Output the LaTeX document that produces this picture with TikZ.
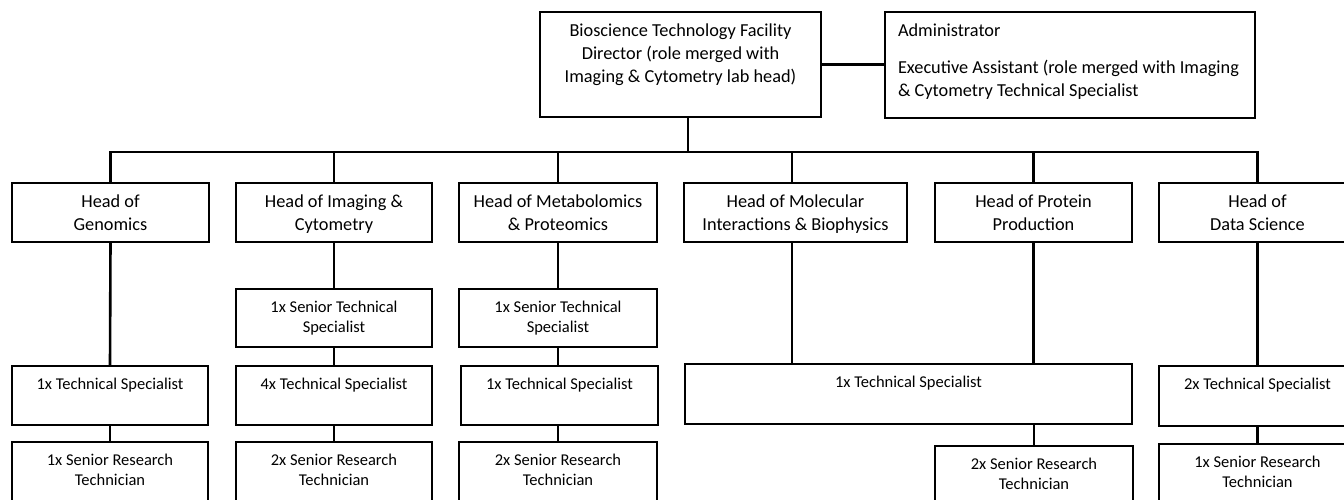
\documentclass[tikz,border=0pt]{standalone}
\usepackage{fontspec}
\setmainfont{Carlito}
\newcommand\toppad{9pt}
\newcommand\orgbox[7][box]{%
  \node[#1] (#2) at (#3,#4) {\parbox[c][\dimexpr #6pt-#4pt\relax][t]{\dimexpr #5pt-#3pt\relax}{\centering\vspace*{\toppad}\strut #7\par}};}
\begin{document}
\begin{tikzpicture}[x=1pt,y=-1pt,
  box/.style={draw=black, line width=1.8pt, fill=white, inner sep=0pt, outer sep=0pt, anchor=north west,
    font=\fontsize{18.3}{22.6}\selectfont},
  sbox/.style={box, font=\fontsize{16.5}{20.8}\selectfont},
  conn/.style={draw=black, line width=2.6pt}]
\useasboundingbox (0,0) rectangle (1344,500);
\fill[white] (0,0) rectangle (1344,500);
\clip (0,0) rectangle (1344,500);
% top
\orgbox{dir}{540}{12}{821}{117}{Bioscience Technology Facility\\Director (role merged with\\Imaging \& Cytometry lab head)}
\node[box] (adm) at (885,12) {\parbox[c][106pt][t]{370pt}{\raggedright\vspace*{\toppad}\hspace*{13pt}\strut Administrator\par\vspace{14pt}\hspace*{13pt}Executive Assistant (role merged with Imaging\\\hspace*{13pt}\& Cytometry Technical Specialist\par}};
% heads
\orgbox{gen}{12}{183}{209}{242}{Head of\\Genomics}
\orgbox{img}{236}{183}{432}{242}{Head of Imaging \&\\Cytometry}
\orgbox{met}{459}{183}{657}{242}{Head of Metabolomics\\\& Proteomics}
\orgbox{mol}{684}{183}{907}{242}{Head of Molecular\\Interactions \& Biophysics}
\orgbox{pro}{935}{183}{1132}{242}{Head of Protein\\Production}
\orgbox{ds}{1159}{183}{1356}{242}{Head of\\Data Science}
\renewcommand\toppad{8.5pt}
% senior technical specialists
\orgbox[sbox]{imgsts}{236}{289}{432}{347}{1x Senior Technical\\Specialist}
\orgbox[sbox]{metsts}{459}{289}{657}{347}{1x Senior Technical\\Specialist}
% technical specialists
\orgbox[sbox]{gents}{12}{366}{208}{425}{1x Technical Specialist}
\orgbox[sbox]{imgts}{236}{366}{432}{425}{4x Technical Specialist}
\orgbox[sbox]{metts}{461}{366}{658}{425}{1x Technical Specialist}
\orgbox[sbox]{molts}{685}{364}{1132}{424}{1x Technical Specialist}
\orgbox[sbox]{dsts}{1159}{366}{1356}{426}{2x Technical Specialist}
% senior research technicians
\orgbox[sbox]{gensrt}{12}{442}{208}{530}{1x Senior Research\\Technician}
\orgbox[sbox]{imgsrt}{236}{442}{432}{530}{2x Senior Research\\Technician}
\orgbox[sbox]{metsrt}{459}{442}{657}{530}{2x Senior Research\\Technician}
\orgbox[sbox]{prosrt}{935}{446}{1133}{530}{2x Senior Research\\Technician}
\orgbox[sbox]{dssrt}{1159}{444}{1356}{530}{1x Senior Research\\Technician}
% connectors
\coordinate (bus) at (688,152);
\draw[conn] (dir.east) -- (dir.east -| adm.west);
\draw[conn] ([xshift=7.5pt]dir.south) -- (bus);
\draw[conn] (gen.north) -- (gen.north |- bus) -- (ds.north |- bus) -- (ds.north);
\draw[conn] (img.north) -- (img.north |- bus);
\draw[conn] (met.north) -- (met.north |- bus);
\draw[conn] ([xshift=-3.5pt]mol.north) -- ([xshift=-3.5pt]mol.north |- bus);
\draw[conn] (pro.north) -- (pro.north |- bus);
\draw[conn] (gen.south) -- (gents.north);
\draw[conn] (gents.south) -- (gensrt.north);
\draw[conn] (img.south) -- (imgsts.north);
\draw[conn] (imgsts.south) -- (imgts.north);
\draw[conn] (imgts.south) -- (imgsrt.north);
\draw[conn] (met.south) -- (metsts.north);
\draw[conn] (metsts.south) -- (metsts.south |- metts.north);
\draw[conn] (metts.south -| metsrt.north) -- (metsrt.north);
\draw[conn] ([xshift=-3.5pt]mol.south) -- ([xshift=-3.5pt]mol.south |- molts.north);
\draw[conn] (pro.south) -- (pro.south |- molts.north);
\draw[conn] (prosrt.north) -- (prosrt.north |- molts.south);
\draw[conn] (ds.south) -- (dsts.north);
\draw[conn] (dsts.south) -- (dssrt.north);
\end{tikzpicture}
\end{document}
